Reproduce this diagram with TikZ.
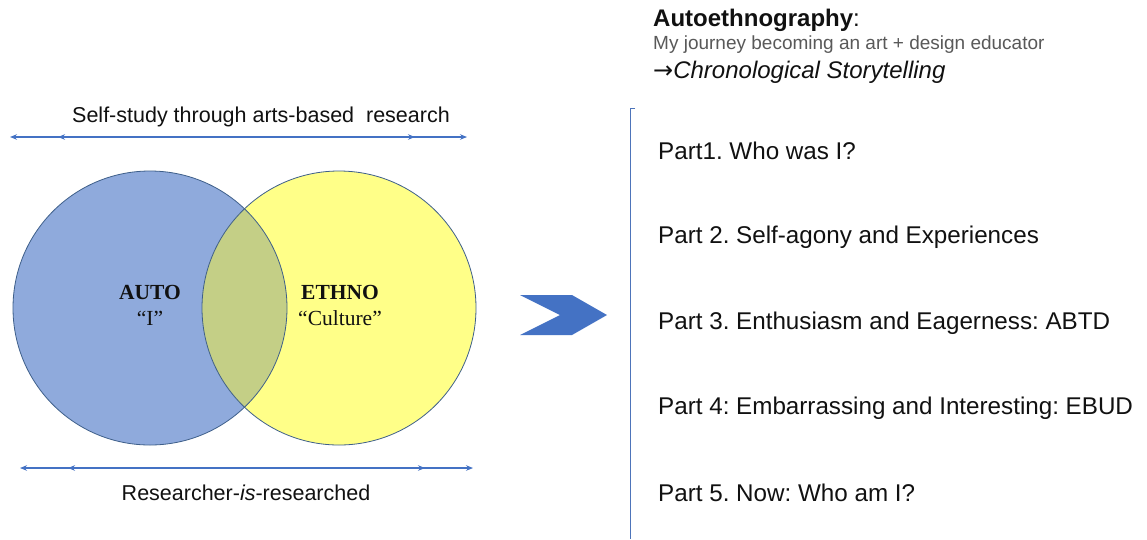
\documentclass[tikz,border=0pt]{standalone}
\usepackage{fontspec}
\setmainfont{Liberation Sans}
\newfontfamily\timesfont{Liberation Serif}
\newfontfamily\symbolfont{DejaVu Sans}
\usetikzlibrary{arrows.meta}
\definecolor{accent}{HTML}{4472C4}
\definecolor{ringline}{HTML}{3E5F8A}
\definecolor{autofill}{HTML}{8FAADC}
\definecolor{ethnofill}{HTML}{FFFF88}
\definecolor{overlapfill}{HTML}{C4CF86}
\definecolor{subgray}{HTML}{595959}
\definecolor{ink}{HTML}{111111}
\frenchspacing

\begin{document}
\begin{tikzpicture}[x=1pt,y=-1pt,
  span/.style={accent, line width=1.1pt,
    {Stealth[length=7pt,width=5.5pt]}-{Stealth[length=7pt,width=5.5pt]}},
  ring/.style={circle, minimum size=274pt, inner sep=0pt},
  outline/.style={draw=ringline, line width=0.8pt},
  sidelabel/.style={inner sep=0pt, text=ink, font=\fontsize{21.5}{26}\selectfont},
  part/.style={anchor=west, inner sep=0pt, text=ink, font=\fontsize{24.2}{28}\selectfont},
  venn/.style={align=center, inner sep=0pt, text=ink, font=\timesfont\fontsize{21.5}{26}\selectfont}]

\useasboundingbox (0,0) rectangle (1147,539);
\fill[white] (0,0) rectangle (1147,539);

% Venn diagram: AUTO and ETHNO
\node[ring, fill=autofill] (auto) at (150,308) {};
\node[ring, fill=ethnofill] (ethno) at (339,308) {};
\begin{scope}
  \clip (auto.center) circle[radius=137pt];
  \fill[overlapfill] (ethno.center) circle[radius=137pt];
\end{scope}
\draw[outline] (auto.center) circle[radius=137pt];
\draw[outline] (ethno.center) circle[radius=137pt];

\node[venn] (autotext) at (150,305) {\textbf{AUTO}\\“I”};
\node[venn] (ethnotext) at (340,305) {\textbf{ETHNO}\\“Culture”};

% span arrows above and below
\node[sidelabel] (selfstudy) at (261,117) {Self-study through arts-based\ \ research};
\coordinate (topL) at (10,137);
\coordinate (topLi) at (58,137);
\coordinate (topRi) at (415,137);
\coordinate (topR) at (467,137);
\draw[span] (topL) -- (topR);
\draw[span] (topLi) -- (topRi);

\coordinate (botL) at (20,468);
\coordinate (botLi) at (68,468);
\coordinate (botRi) at (425,468);
\coordinate (botR) at (473,468);
\draw[span] (botL) -- (botR);
\draw[span] (botLi) -- (botRi);
\node[sidelabel] (researcher) at (246,493) {Researcher-\textit{is}-researched};

% chevron
\fill[accent] (520,295) -- (572,295) -- (607,315) -- (572,335) -- (520,335) -- (560,315) -- cycle;

% bracket
\draw[accent!85!gray, line width=0.9pt] (635,108) -- (630,108) -- (630,539);

% heading
\node[anchor=west, inner sep=0pt, text=ink, font=\bfseries\fontsize{24}{28}\selectfont] (title) at (653,20) {Autoethnography\textmd{:}};
\node[anchor=west, inner sep=0pt, text=subgray, font=\fontsize{19}{22}\selectfont] (journey) at (653,45) {My journey becoming an art + design educator};
\node[anchor=west, inner sep=0pt, text=ink, font=\itshape\fontsize{24}{28}\selectfont] (story) at (653,72) {{\symbolfont\upshape →}Chronological Storytelling};

% parts
\node[part] (p1) at (658,151) {Part1. Who was I?};
\node[part] (p2) at (658,237) {Part 2. Self-agony and Experiences};
\node[part] (p3) at (658,323) {Part 3. Enthusiasm and Eagerness: ABTD};
\node[part] (p4) at (658,408) {Part 4: Embarrassing and Interesting: EBUD};
\node[part] (p5) at (658,493) {Part 5. Now: Who am I?};
\end{tikzpicture}
\end{document}
